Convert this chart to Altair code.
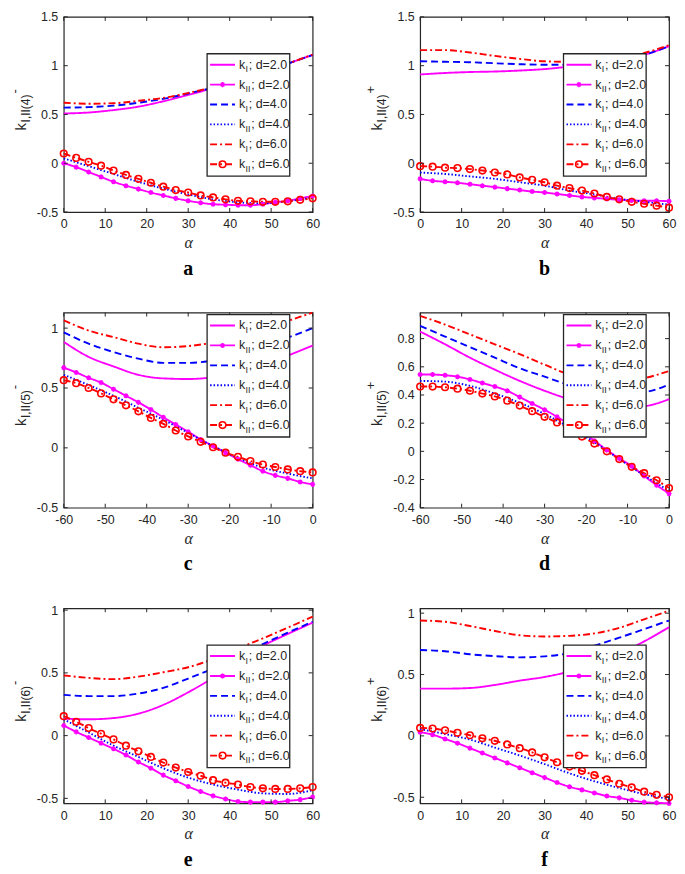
import altair as alt
import pandas as pd

# ---------------- x grids and ticks ----------------
ALPHA_POS_FINE = list(range(0, 61, 3))
ALPHA_POS_COARSE = list(range(0, 61, 6))
ALPHA_NEG_FINE = list(range(-60, 1, 3))
ALPHA_NEG_COARSE = list(range(-60, 1, 6))
X_TICKS_POS = [0, 10, 20, 30, 40, 50, 60]
X_TICKS_NEG = [-60, -50, -40, -30, -20, -10, 0]

# ---------------- panel a : k_I,II(4)^- ----------------
A_KI_D2 = [0.51, 0.52, 0.545, 0.58, 0.635, 0.70, 0.77, 0.84, 0.92, 1.02, 1.11]
A_KII_D2 = [0.0, -0.04, -0.09, -0.14, -0.19, -0.23, -0.265, -0.30, -0.33, -0.36, -0.385,
            -0.405, -0.42, -0.425, -0.43, -0.43, -0.42, -0.40, -0.385, -0.36, -0.335]
A_KI_D4 = [0.57, 0.575, 0.59, 0.62, 0.66, 0.715, 0.775, 0.845, 0.925, 1.02, 1.11]
A_KII_D4 = [0.05, -0.03, -0.11, -0.19, -0.26, -0.32, -0.37, -0.40, -0.41, -0.39, -0.35]
A_KI_D6 = [0.62, 0.61, 0.615, 0.64, 0.67, 0.72, 0.78, 0.85, 0.93, 1.02, 1.115]
A_KII_D6 = [0.10, 0.055, 0.015, -0.025, -0.075, -0.12, -0.16, -0.20, -0.24, -0.275, -0.30,
            -0.33, -0.35, -0.37, -0.385, -0.39, -0.395, -0.395, -0.39, -0.375, -0.36]

# ---------------- panel b : k_I,II(4)^+ ----------------
B_KI_D2 = [0.91, 0.925, 0.935, 0.94, 0.95, 0.965, 0.99, 1.01, 1.05, 1.11, 1.20]
B_KII_D2 = [-0.16, -0.18, -0.19, -0.20, -0.215, -0.23, -0.245, -0.26, -0.275, -0.29, -0.30,
            -0.315, -0.33, -0.345, -0.355, -0.365, -0.375, -0.38, -0.385, -0.385, -0.39]
B_KI_D4 = [1.045, 1.04, 1.035, 1.025, 1.015, 1.01, 1.01, 1.02, 1.05, 1.11, 1.20]
B_KII_D4 = [-0.095, -0.11, -0.135, -0.16, -0.195, -0.23, -0.28, -0.32, -0.365, -0.395, -0.425]
B_KI_D6 = [1.16, 1.16, 1.135, 1.10, 1.07, 1.045, 1.04, 1.05, 1.08, 1.13, 1.21]
B_KII_D6 = [-0.03, -0.035, -0.045, -0.05, -0.06, -0.075, -0.095, -0.115, -0.145, -0.17, -0.195,
            -0.23, -0.255, -0.28, -0.31, -0.345, -0.37, -0.395, -0.415, -0.435, -0.455]

# ---------------- panel c : k_I,II(5)^- ----------------
C_KI_D2 = [0.885, 0.76, 0.68, 0.61, 0.58, 0.575, 0.59, 0.63, 0.69, 0.77, 0.855]
C_KII_D2 = [0.67, 0.63, 0.585, 0.545, 0.49, 0.435, 0.38, 0.32, 0.255, 0.195, 0.135,
            0.07, 0.015, -0.04, -0.095, -0.145, -0.195, -0.23, -0.255, -0.285, -0.305]
C_KI_D4 = [0.965, 0.87, 0.80, 0.745, 0.71, 0.71, 0.73, 0.78, 0.84, 0.92, 1.0]
C_KII_D4 = [0.61, 0.525, 0.435, 0.335, 0.235, 0.125, 0.015, -0.085, -0.165, -0.215, -0.255]
C_KI_D6 = [1.065, 0.98, 0.925, 0.87, 0.84, 0.85, 0.88, 0.93, 0.99, 1.06, 1.13]
C_KII_D6 = [0.565, 0.54, 0.50, 0.455, 0.405, 0.355, 0.305, 0.25, 0.20, 0.145, 0.095,
            0.05, 0.005, -0.04, -0.075, -0.11, -0.14, -0.16, -0.18, -0.195, -0.205]

# ---------------- panel d : k_I,II(5)^+ ----------------
D_KI_D2 = [0.85, 0.76, 0.665, 0.58, 0.50, 0.43, 0.37, 0.33, 0.31, 0.32, 0.37]
D_KII_D2 = [0.545, 0.545, 0.54, 0.53, 0.51, 0.485, 0.46, 0.43, 0.385, 0.34, 0.295,
            0.245, 0.19, 0.14, 0.075, 0.01, -0.05, -0.105, -0.175, -0.24, -0.30]
D_KI_D4 = [0.89, 0.815, 0.74, 0.665, 0.59, 0.53, 0.47, 0.43, 0.41, 0.42, 0.475]
D_KII_D4 = [0.50, 0.495, 0.465, 0.41, 0.345, 0.265, 0.17, 0.065, -0.055, -0.17, -0.28]
D_KI_D6 = [0.962, 0.90, 0.83, 0.76, 0.69, 0.615, 0.545, 0.51, 0.50, 0.52, 0.57]
D_KII_D6 = [0.46, 0.46, 0.455, 0.445, 0.43, 0.41, 0.39, 0.36, 0.325, 0.285, 0.245,
            0.205, 0.16, 0.105, 0.055, 0.0, -0.055, -0.11, -0.155, -0.205, -0.26]

# ---------------- panel e : k_I,II(6)^- ----------------
E_KI_D2 = [0.135, 0.13, 0.14, 0.175, 0.245, 0.345, 0.46, 0.59, 0.715, 0.81, 0.90]
E_KII_D2 = [0.08, 0.03, -0.015, -0.06, -0.105, -0.155, -0.21, -0.26, -0.315, -0.36, -0.405,
            -0.445, -0.48, -0.505, -0.525, -0.53, -0.53, -0.53, -0.52, -0.51, -0.49]
E_KI_D4 = [0.325, 0.315, 0.315, 0.335, 0.38, 0.455, 0.535, 0.63, 0.73, 0.82, 0.908]
E_KII_D4 = [0.13, 0.025, -0.08, -0.17, -0.26, -0.335, -0.39, -0.43, -0.46, -0.465, -0.435]
E_KI_D6 = [0.48, 0.46, 0.45, 0.47, 0.505, 0.545, 0.61, 0.695, 0.775, 0.86, 0.948]
E_KII_D6 = [0.155, 0.11, 0.06, 0.015, -0.03, -0.08, -0.125, -0.17, -0.215, -0.255, -0.29,
            -0.32, -0.355, -0.375, -0.39, -0.41, -0.42, -0.425, -0.425, -0.42, -0.41]

# ---------------- panel f : k_I,II(6)^+ ----------------
F_KI_D2 = [0.385, 0.385, 0.39, 0.415, 0.45, 0.48, 0.525, 0.59, 0.67, 0.77, 0.885]
F_KII_D2 = [0.03, 0.01, -0.025, -0.06, -0.10, -0.14, -0.18, -0.22, -0.26, -0.30, -0.34,
            -0.38, -0.415, -0.44, -0.465, -0.49, -0.505, -0.525, -0.54, -0.545, -0.55]
F_KI_D4 = [0.70, 0.69, 0.665, 0.65, 0.64, 0.648, 0.675, 0.735, 0.80, 0.87, 0.94]
F_KII_D4 = [0.055, 0.015, -0.03, -0.095, -0.16, -0.23, -0.305, -0.37, -0.425, -0.475, -0.515]
F_KI_D6 = [0.94, 0.93, 0.895, 0.855, 0.82, 0.81, 0.815, 0.835, 0.88, 0.95, 1.02]
F_KII_D6 = [0.065, 0.06, 0.045, 0.025, 0.005, -0.02, -0.04, -0.07, -0.10, -0.135, -0.175,
            -0.215, -0.25, -0.285, -0.32, -0.355, -0.39, -0.42, -0.455, -0.48, -0.50]

# ---------------- series / legend text ----------------
SERIES = ["s1", "s2", "s3", "s4", "s5", "s6"]
LEGEND_SUB = ["I", "II", "I", "II", "I", "II"]
LEGEND_D = ["2.0", "2.0", "4.0", "4.0", "6.0", "6.0"]

# ---------------- styling ----------------
COLORS = ["#ff00ff", "#ff00ff", "#0000ff", "#0000ff", "#ff0000", "#ff0000"]
DASHES = [[1, 0], [1, 0], [7, 4], [1.5, 2], [7, 3, 2, 3], [7, 3, 2, 3]]
W, H = 250, 196
FONT = "Liberation Sans"
SERIF = "Liberation Serif"
INK = "#262626"
ASTERISK = "M-1,0L1,0M0,-1L0,1M-0.7,-0.7L0.7,0.7M-0.7,0.7L0.7,-0.7"
DUMMY = pd.DataFrame({"k": [0]})


def txt(s, x, y, size, angle=0, font=FONT, weight="normal", align="left", color=INK):
    kw = dict(text=s, align=align, baseline="alphabetic", font=font,
              fontSize=size, fontWeight=weight, color=color)
    if angle:
        kw["angle"] = angle
    return alt.Chart(DUMMY).mark_text(**kw).encode(x=alt.value(x), y=alt.value(y))


def panel(letter, fine, coarse, vals, xdom, xticks, ydom, yticks, num, sign, ly):
    grids = [coarse, fine, coarse, coarse, coarse, fine]
    frames = [pd.DataFrame({"a": g, "v": v, "s": s}) for s, g, v in zip(SERIES, grids, vals)]
    df = pd.concat(frames, ignore_index=True)

    xaxis = alt.Axis(values=xticks, title="α", ticks=False, domain=False, grid=False,
                     tickSize=0, labelFlush=False, labelOverlap=False, labelPadding=6,
                     labelExpr="toString(datum.value)", labelFont=FONT, labelFontSize=12.5,
                     labelColor=INK, titleFont=SERIF, titleFontStyle="italic",
                     titleFontWeight="normal", titleFontSize=16, titlePadding=4,
                     titleColor=INK)
    yaxis = alt.Axis(values=yticks, title=None, ticks=False, domain=False, grid=False,
                     tickSize=0, labelOverlap=False, labelPadding=6,
                     labelExpr="toString(datum.value)", labelFont=FONT, labelFontSize=12.5,
                     labelColor=INK)
    X = alt.X("a:Q", scale=alt.Scale(domain=xdom, nice=False, zero=False), axis=xaxis)
    Y = alt.Y("v:Q", scale=alt.Scale(domain=ydom, nice=False, zero=False), axis=yaxis)

    lines = alt.Chart(df).mark_line(strokeWidth=1.9, interpolate="monotone").encode(
        x=X, y=Y,
        color=alt.Color("s:N", scale=alt.Scale(domain=SERIES, range=COLORS), legend=None),
        strokeDash=alt.StrokeDash("s:N", scale=alt.Scale(domain=SERIES, range=DASHES), legend=None),
    )
    stars = alt.Chart(df).transform_filter(alt.datum.s == "s2").mark_point(
        shape=ASTERISK, size=26, filled=False, strokeWidth=1.4, color=COLORS[1], opacity=1
    ).encode(x=X, y=Y)
    circles = alt.Chart(df).transform_filter(alt.datum.s == "s6").mark_point(
        shape="circle", size=44, filled=False, strokeWidth=1.6, color=COLORS[5], opacity=1
    ).encode(x=X, y=Y)

    xt = pd.DataFrame({"a": xticks})
    yt = pd.DataFrame({"v": yticks})
    tk = dict(color=INK, strokeWidth=1)
    ticks = [
        alt.Chart(xt).mark_rule(**tk).encode(x=X, y=alt.value(H), y2=alt.value(H - 4)),
        alt.Chart(xt).mark_rule(**tk).encode(x=X, y=alt.value(0), y2=alt.value(4)),
        alt.Chart(yt).mark_rule(**tk).encode(y=Y, x=alt.value(0), x2=alt.value(4)),
        alt.Chart(yt).mark_rule(**tk).encode(y=Y, x=alt.value(W), x2=alt.value(W - 4)),
    ]

    # legend box
    lx = W - 106
    leg = [alt.Chart(DUMMY).mark_rect(fill="white", stroke=INK, strokeWidth=1.3).encode(
        x=alt.value(lx), x2=alt.value(lx + 83), y=alt.value(ly), y2=alt.value(ly + 123))]
    for i in range(6):
        ry = ly + 11 + 20 * i
        leg.append(alt.Chart(DUMMY).mark_rule(color=COLORS[i], strokeDash=DASHES[i],
                                              strokeWidth=1.9).encode(
            x=alt.value(lx + 3), x2=alt.value(lx + 28), y=alt.value(ry)))
        if i == 1:
            leg.append(alt.Chart(DUMMY).mark_point(shape=ASTERISK, size=26, filled=False,
                                                   strokeWidth=1.4, color=COLORS[1], opacity=1)
                       .encode(x=alt.value(lx + 15.5), y=alt.value(ry)))
        if i == 5:
            leg.append(alt.Chart(DUMMY).mark_point(shape="circle", size=44, filled=False,
                                                   strokeWidth=1.6, color=COLORS[5], opacity=1)
                       .encode(x=alt.value(lx + 15.5), y=alt.value(ry)))
        sub = LEGEND_SUB[i]
        subw = 2.8 if sub == "I" else 5.4
        leg.append(txt("k", lx + 32, ry + 4, 12.5))
        leg.append(txt(sub, lx + 38.5, ry + 7.5, 9))
        leg.append(txt("; d=" + LEGEND_D[i], lx + 39 + subw, ry + 4, 12.5))

    # rotated y title  k_{I,II(n)}^{+/-}
    ys = H / 2 + 16
    ytitle = [
        txt("k", -38, ys, 15, 270),
        txt("I,II(" + num + ")", -34, ys - 8, 12, 270),
        txt(sign, -45, ys - 37, 13, 270),
    ]
    # panel letter below the alpha title
    lab = txt(letter, W / 2, H + 63, 20, font=SERIF, weight="bold", align="center",
              color="black")

    return alt.layer(lines, stars, circles, *ticks, *leg, *ytitle, lab).properties(
        width=W, height=H)


pa = panel("a", ALPHA_POS_FINE, ALPHA_POS_COARSE,
           [A_KI_D2, A_KII_D2, A_KI_D4, A_KII_D4, A_KI_D6, A_KII_D6],
           [0, 60], X_TICKS_POS, [-0.5, 1.5], [-0.5, 0, 0.5, 1, 1.5], "4", "-", 37)
pb = panel("b", ALPHA_POS_FINE, ALPHA_POS_COARSE,
           [B_KI_D2, B_KII_D2, B_KI_D4, B_KII_D4, B_KI_D6, B_KII_D6],
           [0, 60], X_TICKS_POS, [-0.5, 1.5], [-0.5, 0, 0.5, 1, 1.5], "4", "+", 37)
pc = panel("c", ALPHA_NEG_FINE, ALPHA_NEG_COARSE,
           [C_KI_D2, C_KII_D2, C_KI_D4, C_KII_D4, C_KI_D6, C_KII_D6],
           [-60, 0], X_TICKS_NEG, [-0.5, 1.13], [-0.5, 0, 0.5, 1], "5", "-", 2)
pd_ = panel("d", ALPHA_NEG_FINE, ALPHA_NEG_COARSE,
            [D_KI_D2, D_KII_D2, D_KI_D4, D_KII_D4, D_KI_D6, D_KII_D6],
            [-60, 0], X_TICKS_NEG, [-0.4, 0.985], [-0.4, -0.2, 0, 0.2, 0.4, 0.6, 0.8], "5", "+", 2)
pe = panel("e", ALPHA_POS_FINE, ALPHA_POS_COARSE,
           [E_KI_D2, E_KII_D2, E_KI_D4, E_KII_D4, E_KI_D6, E_KII_D6],
           [0, 60], X_TICKS_POS, [-0.54, 1.015], [-0.5, 0, 0.5, 1], "6", "-", 37)
pf = panel("f", ALPHA_POS_FINE, ALPHA_POS_COARSE,
           [F_KI_D2, F_KII_D2, F_KI_D4, F_KII_D4, F_KI_D6, F_KII_D6],
           [0, 60], X_TICKS_POS, [-0.55, 1.04], [-0.5, 0, 0.5, 1], "6", "+", 37)

chart = alt.vconcat(
    alt.hconcat(pa, pb, spacing=44),
    alt.hconcat(pc, pd_, spacing=44),
    alt.hconcat(pe, pf, spacing=44),
    spacing=28,
).properties(
    padding={"left": 0, "top": 0, "right": 0, "bottom": 0}
).configure_view(stroke=INK, strokeWidth=1.2)

chart.save("out.html", embed_options={"renderer": "svg", "actions": False})
